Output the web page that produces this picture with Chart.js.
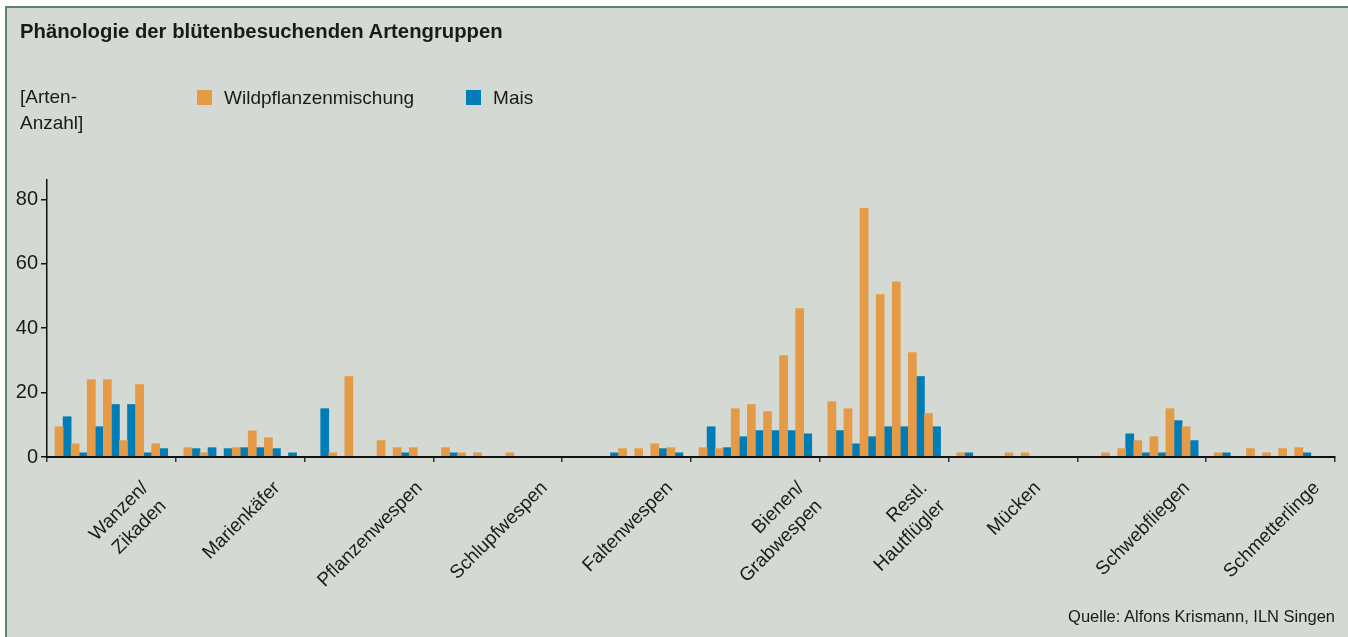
<!DOCTYPE html>
<html lang="de">
<head>
<meta charset="utf-8">
<title>Phänologie der blütenbesuchenden Artengruppen</title>
<script src="https://cdn.jsdelivr.net/npm/chart.js@4.4.1/dist/chart.umd.min.js"></script>
<style>
html, body { margin:0; padding:0; background:#fff; }
body { width:1348px; height:637px; position:relative; overflow:hidden;
       font-family:"Liberation Sans", Arial, sans-serif; color:#1a1a1a; }
#frame { position:absolute; left:5px; top:6px; right:0; bottom:0; background:#d4d9d3;
         border-left:2px solid #5e8468; border-top:2px solid #5e8468; }
#chart { position:absolute; left:0; top:0; }
.txt { position:absolute; white-space:nowrap; }
#title { left:20px; top:21px; font-weight:bold; font-size:20.3px; line-height:20px; }
#unit { left:20px; top:84px; font-size:19px; line-height:26px; }
#legend { left:197px; top:88px; font-size:19px; line-height:19px; display:flex; }
#legend .item { display:flex; align-items:center; margin-right:52px; }
#legend .box { width:15px; height:15px; margin-right:12px; }
#source { right:13px; top:608px; font-size:16.5px; line-height:16.5px; }
</style>
</head>
<body>
<div id="frame"></div>
<canvas id="chart" width="1348" height="637"></canvas>
<div class="txt" id="title">Phänologie der blütenbesuchenden Artengruppen</div>
<div class="txt" id="unit">[Arten-<br>Anzahl]</div>
<div class="txt" id="legend"></div>
<div class="txt" id="source">Quelle: Alfons Krismann, ILN Singen</div>
<script>
// Artengruppen (x-Achse)
const groupNames = [
  ['Wanzen/', 'Zikaden'], 'Marienkäfer', 'Pflanzenwespen', 'Schlupfwespen', 'Faltenwespen',
  ['Bienen/', 'Grabwespen'], ['Restl.', 'Hautflügler'], 'Mücken', 'Schwebfliegen', 'Schmetterlinge'
];
// 7 Termine je Gruppe
const wildpflanzen = [
  9.4, 4.1, 24.0, 24.0, 5.1, 22.5, 4.1,
  2.9, 1.3, 0, 2.9, 8.1, 6.0, 0,
  0, 1.3, 25.0, 0, 5.1, 2.9, 2.9,
  2.9, 1.3, 1.3, 0, 1.3, 0, 0,
  0, 0, 0, 2.6, 2.6, 4.1, 2.9,
  2.9, 2.6, 15.0, 16.3, 14.1, 31.5, 46.1,
  17.2, 15.0, 77.2, 50.4, 54.4, 32.4, 13.5,
  1.3, 0, 0, 1.3, 1.3, 0, 0,
  0, 1.3, 2.6, 5.1, 6.3, 15.0, 9.4,
  1.3, 0, 2.6, 1.3, 2.6, 2.9, 0
];
const mais = [
  12.5, 1.3, 9.4, 16.3, 16.3, 1.3, 2.6,
  2.6, 2.9, 2.6, 2.9, 2.9, 2.6, 1.3,
  15.0, 0, 0, 0, 0, 1.3, 0,
  1.3, 0, 0, 0, 0, 0, 0,
  0, 0, 1.3, 0, 0, 2.6, 1.3,
  9.4, 2.9, 6.3, 8.2, 8.2, 8.2, 7.2,
  8.2, 4.1, 6.3, 9.4, 9.4, 25.0, 9.4,
  1.3, 0, 0, 0, 0, 0, 0,
  0, 0, 7.2, 1.3, 1.3, 11.3, 5.1,
  1.3, 0, 0, 0, 0, 1.3, 0
];
const yTicks = [0, 20, 40, 60, 80];
const perGroup = 7;

const orange = '#e59a45';
const blue = '#007cb6';

// 8 Slots je Gruppe, Slot 0 bleibt leer (Gruppengrenze)
const slotLabels = [];
const wildSlots = [];
const maisSlots = [];
for (let g = 0; g < groupNames.length; g++) {
  slotLabels.push('g' + g);
  wildSlots.push(null);
  maisSlots.push(null);
  for (let k = 0; k < perGroup; k++) {
    slotLabels.push(g + '-' + k);
    wildSlots.push(wildpflanzen[g * perGroup + k] || null);
    maisSlots.push(mais[g * perGroup + k] || null);
  }
}
slotLabels.push('end');
wildSlots.push(null);
maisSlots.push(null);

const groupLabelPlugin = {
  id: 'groupLabels',
  afterDraw(chart) {
    const sc = chart.scales.x2, ctx = chart.ctx;
    ctx.save();
    ctx.font = '19px "Liberation Sans", Arial, sans-serif';
    ctx.fillStyle = '#1a1a1a';
    ctx.textAlign = 'right';
    ctx.textBaseline = 'alphabetic';
    groupNames.forEach((name, i) => {
      const lines = Array.isArray(name) ? name : [name];
      const w = Math.max(...lines.map(l => ctx.measureText(l).width));
      const cx = sc.getPixelForValue(i);
      const tx = cx + Math.SQRT1_2 * (w / 2 - 7 + (lines.length - 1) * 9);
      ctx.save();
      ctx.translate(tx, 479);
      ctx.rotate(-Math.PI / 4);
      lines.forEach((l, j) => ctx.fillText(l, 0, 14 + j * 25.5));
      ctx.restore();
    });
    ctx.restore();
  }
};

const chart = new Chart(document.getElementById('chart'), {
  type: 'bar',
  data: {
    labels: slotLabels,
    datasets: [
      { label: 'Wildpflanzenmischung', data: wildSlots, backgroundColor: orange },
      { label: 'Mais', data: maisSlots, backgroundColor: blue }
    ]
  },
  options: {
    responsive: false,
    animation: false,
    events: [],
    categoryPercentage: 1,
    barPercentage: 1,
    layout: { padding: { left: 0, right: 13, top: 180, bottom: 0 } },
    plugins: { legend: { display: false }, tooltip: { enabled: false } },
    scales: {
      x: { type: 'category', display: false, offset: false, grid: { offset: false } },
      x2: {
        type: 'category', position: 'bottom', labels: groupNames.map((n, i) => 'G' + i),
        offset: true,
        grid: { offset: true, drawOnChartArea: false, tickLength: 5, color: '#333', lineWidth: 1.5 },
        border: { color: '#111', width: 2, z: 1 },
        ticks: { display: false },
        afterFit(s) { s.height = 180; }
      },
      y: {
        min: 0, max: 86,
        afterBuildTicks(s) { s.ticks = yTicks.map(v => ({ value: v })); },
        ticks: { color: '#1a1a1a', padding: 3, font: { family: '"Liberation Sans Narrow", "Liberation Sans", Arial, sans-serif', size: 20 } },
        grid: { drawOnChartArea: false, tickLength: 6, color: '#111', lineWidth: 1.5 },
        border: { color: '#111', width: 1.5, z: 1 },
        afterFit(s) { s.width = 47; }
      }
    }
  },
  plugins: [groupLabelPlugin]
});

// Legende aus den Datensätzen
const legend = document.getElementById('legend');
chart.data.datasets.forEach(ds => {
  const item = document.createElement('div');
  item.className = 'item';
  const box = document.createElement('span');
  box.className = 'box';
  box.style.background = ds.backgroundColor;
  const label = document.createElement('span');
  label.textContent = ds.label;
  item.appendChild(box);
  item.appendChild(label);
  legend.appendChild(item);
});
</script>
</body>
</html>
